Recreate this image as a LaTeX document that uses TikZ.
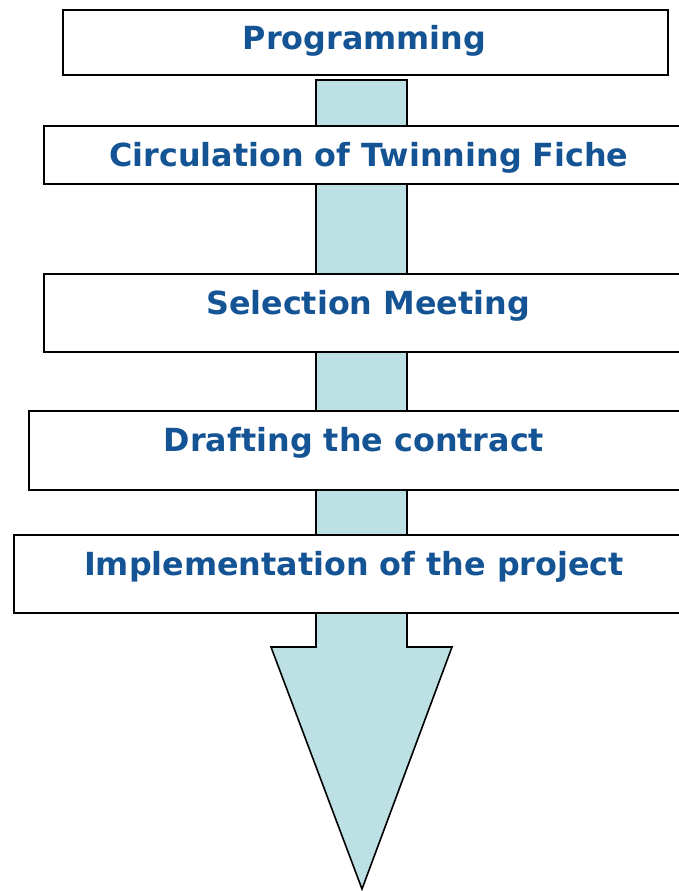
\documentclass[tikz,border=0pt]{standalone}
\usepackage{fontspec}
\setmainfont{DejaVu Sans}
\definecolor{txtblue}{RGB}{20,84,148}
\definecolor{shaftfill}{RGB}{188,224,227}
\begin{document}
\begin{tikzpicture}[x=1pt,y=-1pt,
  stepbox/.style={draw=black,line width=2pt,fill=white,rectangle,inner sep=0pt,anchor=north west},
  lbl/.style={anchor=base,inner sep=0pt,text=txtblue,font=\bfseries\fontsize{31.8}{34}\selectfont}]
\clip (0,0) rectangle (679,891);
% arrow
\coordinate (s1) at (316,80);
\coordinate (s2) at (407,80);
\coordinate (s3) at (407,647);
\coordinate (h1) at (452,647);
\coordinate (tip) at (362,889);
\coordinate (h2) at (271,647);
\coordinate (s4) at (316,647);
\draw[line width=1.6pt,fill=shaftfill,line join=miter] (s1) -- (s2) -- (s3) -- (h1) -- (tip) -- (h2) -- (s4) -- cycle;
% boxes
\node[stepbox,minimum width=605,minimum height=65] (b1) at (62,9) {};
\node[stepbox,minimum width=652,minimum height=58] (b2) at (43,125) {};
\node[stepbox,minimum width=652,minimum height=78] (b3) at (43,273) {};
\node[stepbox,minimum width=652,minimum height=79] (b4) at (28,410) {};
\node[stepbox,minimum width=682,minimum height=78] (b5) at (13,534) {};
% labels
\node[lbl] (t1) at (364.5,50) {Programming};
\node[lbl] (t2) at (369,166) {Circulation of Twinning Fiche};
\node[lbl] (t3) at (368,314) {Selection Meeting};
\node[lbl] (t4) at (354,451) {Drafting the contract};
\node[lbl] (t5) at (354,575) {Implementation of the project};
\end{tikzpicture}
\end{document}
